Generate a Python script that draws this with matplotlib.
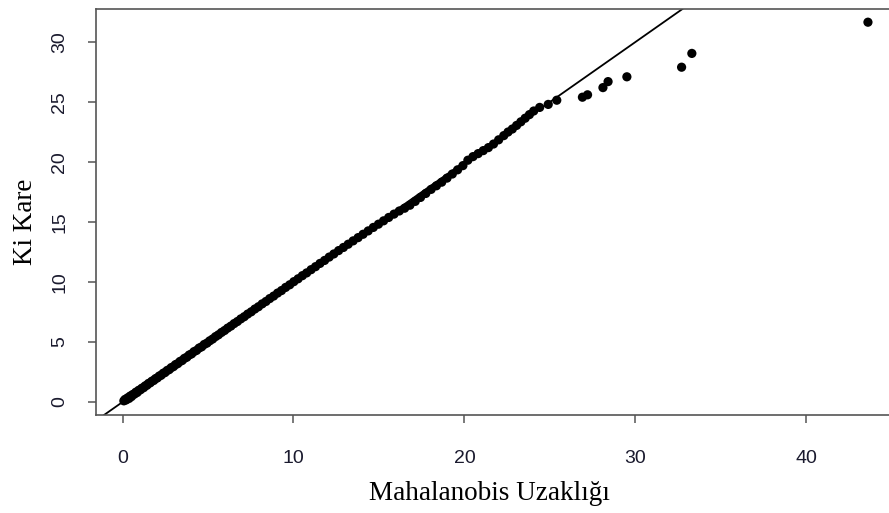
import matplotlib.pyplot as plt

# ── Data (chi-square QQ plot) ────────────────────────────────────────────────
mahalanobis = [
    0.08, 0.15, 0.22, 0.30, 0.38, 0.45, 0.52, 0.60, 0.70, 0.78, 0.86, 0.95,
    1.05, 1.14, 1.24, 1.33, 1.43, 1.52, 1.62, 1.72, 1.83, 1.93, 2.04, 2.15,
    2.26, 2.38, 2.49, 2.61, 2.73, 2.85, 2.98, 3.10, 3.23, 3.36, 3.49, 3.62,
    3.76, 3.90, 4.04, 4.18, 4.33, 4.48, 4.63, 4.78, 4.94,
    5.10, 5.27, 5.44, 5.61, 5.79, 5.97, 6.15, 6.34, 6.53, 6.72, 6.92, 7.12,
    7.32, 7.53, 7.74, 7.95, 8.17, 8.39, 8.61, 8.84, 9.07, 9.30, 9.54, 9.78,
    10.02, 10.27, 10.52, 10.77, 11.03, 11.29, 11.55, 11.82, 12.09, 12.36,
    12.64, 12.92, 13.20, 13.49, 13.78, 14.07, 14.37, 14.67, 14.97,
    15.27, 15.57, 15.88, 16.19, 16.50, 16.81, 17.12, 17.43, 17.74, 18.05,
    18.36, 18.67, 18.98, 19.29, 19.60, 19.91,
    20.20, 20.50, 20.80, 21.10, 21.40, 21.70, 22.00, 22.30, 22.55, 22.80,
    23.05, 23.30, 23.55, 23.80, 24.05,
    24.40, 24.90, 25.40,
    26.90, 27.20, 28.10, 28.40, 29.50, 32.70, 33.30, 43.60,
]
ki_kare = [
    0.10, 0.22, 0.18, 0.35, 0.30, 0.50, 0.45, 0.63, 0.66, 0.82, 0.80, 0.98,
    1.02, 1.16, 1.20, 1.35, 1.40, 1.55, 1.60, 1.74, 1.80, 1.95, 2.01, 2.17,
    2.23, 2.40, 2.46, 2.63, 2.70, 2.87, 2.95, 3.12, 3.20, 3.38, 3.46, 3.64,
    3.73, 3.92, 4.01, 4.20, 4.30, 4.50, 4.60, 4.80, 4.91,
    5.10, 5.25, 5.45, 5.60, 5.80, 5.96, 6.16, 6.33, 6.54, 6.71, 6.93, 7.11,
    7.33, 7.52, 7.75, 7.94, 8.18, 8.38, 8.62, 8.83, 9.08, 9.29, 9.55, 9.77,
    10.03, 10.27, 10.53, 10.76, 11.03, 11.28, 11.55, 11.80, 12.08, 12.34,
    12.62, 12.88, 13.15, 13.43, 13.70, 13.98, 14.26, 14.55, 14.82,
    15.10, 15.38, 15.66, 15.92, 16.15, 16.40, 16.72, 17.05, 17.38, 17.72,
    18.02, 18.32, 18.66, 19.00, 19.35, 19.70,
    20.15, 20.45, 20.70, 20.95, 21.20, 21.50, 21.85, 22.20, 22.50, 22.75,
    23.05, 23.35, 23.65, 23.95, 24.25,
    24.55, 24.80, 25.15,
    25.40, 25.60, 26.20, 26.70, 27.10, 27.90, 29.05, 31.65,
]
x_ticks = [0, 10, 20, 30, 40]
y_ticks = [0, 5, 10, 15, 20, 25, 30]

# ── Figure ───────────────────────────────────────────────────────────────────
W, H = 889, 513
fig = plt.figure(figsize=(W / 100, H / 100), dpi=100)
# plot box: left 96px, right edge falls outside the picture, top 9px, bottom 415px
ax = fig.add_axes([96 / W, (H - 415) / H, (903 - 96) / W, (415 - 9) / H])

ax.scatter(mahalanobis, ki_kare, s=44, color="black", edgecolor="none", zorder=3)
ax.axline((0, 0), slope=1, color="black", linewidth=1.3, zorder=2)

ax.set_xlim(-1.55, 45.65)
ax.set_ylim(-1.08, 32.75)
ax.set_xticks(x_ticks)
ax.set_yticks(y_ticks)

for sp in ax.spines.values():
    sp.set_color("#555555")
    sp.set_linewidth(1.2)

ax.tick_params(axis="both", direction="out", length=6, width=1.1,
               color="#555555", labelcolor="#1a1a2e", labelsize=14)
ax.tick_params(axis="x", pad=19)
ax.tick_params(axis="y", pad=14)
for lab in ax.get_xticklabels() + ax.get_yticklabels():
    lab.set_family("Liberation Sans")
for lab in ax.get_yticklabels():
    lab.set_rotation(90)
    lab.set_va("center")

ax.set_xlabel("Mahalanobis Uzaklığı", family="Liberation Serif", fontsize=19.5)
ax.set_ylabel("Ki Kare", family="Liberation Serif", fontsize=19.5)
ax.xaxis.set_label_coords(0.488, -0.162)
ax.yaxis.set_label_coords(-0.072, 0.475)

fig.savefig("out.png", dpi=100)
